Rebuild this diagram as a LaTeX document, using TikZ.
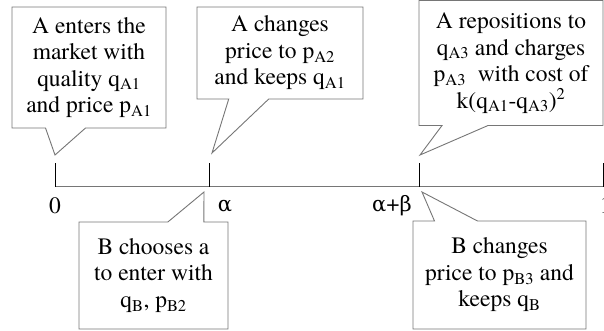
\documentclass[tikz,border=0pt]{standalone}
\usepackage{fontspec}
\setmainfont{texgyretermes-regular.otf}
\newfontfamily\greekfont{DejaVu Serif}
\usepackage{tikz}
\usetikzlibrary{positioning,shapes.callouts}
\definecolor{linegray}{RGB}{118,118,118}
\tikzset{
  axis/.style={draw=linegray,line width=1pt},
  tickline/.style={draw=black,line width=0.8pt},
  bubble/.style={rectangle callout,draw=linegray,fill=white,line width=0.9pt,
    align=center,inner sep=0pt,callout pointer width=40pt,
    font=\fontsize{23.5}{26.5}\selectfont},
  ticklabel/.style={font=\fontsize{23.5}{26}\selectfont}
}

\begin{document}
\begin{tikzpicture}[x=1pt,y=-1pt]
      \useasboundingbox (0,0) rectangle (604,330);
      \coordinate (t0) at (55,186.5);
      \coordinate (ta) at (209,186.5);
      \coordinate (tab) at (419,186.5);
      \coordinate (t1) at (603,186.5);
      \coordinate (u0) at (55,163);
      \coordinate (ua) at (209,163);
      \coordinate (uab) at (419,163);
      \coordinate (u1) at (603,163);
      \coordinate (p1) at (55,155);
      \coordinate (p2) at (212,153);
      \coordinate (p3) at (420,155);
      \coordinate (p4) at (204,192);
      \coordinate (p5) at (422,192);
      \draw[axis] (t0) -- (t1);
      \draw[tickline] (t0) -- (u0);
      \draw[tickline] (ta) -- (ua);
      \draw[tickline] (tab) -- (uab);
      \draw[tickline] (t1) -- (u1);
      \node[ticklabel] (l0) at (55,206) {0};
      \node[ticklabel] (la) at (225,206) {{\greekfont\fontsize{21}{26}\selectfont α}};
      \node[ticklabel] (lab) at (392,206) {{\greekfont\fontsize{21}{26}\selectfont α}+{\greekfont\fontsize{21}{26}\selectfont β}};
      \node[ticklabel] (l1) at (605.5,206) {1};
      \node[bubble,minimum width=154pt,minimum height=121pt,
        callout absolute pointer={(p1)}] (c1) at (89,67.5)
        {A enters the\\market with\\quality q\textsubscript{A1}\\and price p\textsubscript{A1}};
      \node[bubble,minimum width=166pt,minimum height=92pt,
        callout absolute pointer={(p2)}] (c2) at (280,53)
        {A changes\\price to p\textsubscript{A2}\\and keeps q\textsubscript{A1}};
      \node[bubble,minimum width=184pt,minimum height=125pt,
        callout pointer width=46pt,
        callout absolute pointer={(p3)}] (c3) at (511,63)
        {A repositions to\\q\textsubscript{A3} and charges\\p\textsubscript{A3}~ with cost of\\k(q\textsubscript{A1}-q\textsubscript{A3})\textsuperscript{2}};
      \node[bubble,minimum width=149pt,minimum height=107pt,
        callout pointer width=36pt,
        callout absolute pointer={(p4)}] (c4) at (153.5,275.5)
        {B chooses a\\to enter with\\q\textsubscript{B}, p\textsubscript{B2}};
      \node[bubble,minimum width=173pt,minimum height=108pt,
        callout pointer width=43pt,
        callout absolute pointer={(p5)}] (c5) at (499.5,275)
        {B changes\\price to p\textsubscript{B3} and\\keeps q\textsubscript{B}};
    \end{tikzpicture}
\end{document}
